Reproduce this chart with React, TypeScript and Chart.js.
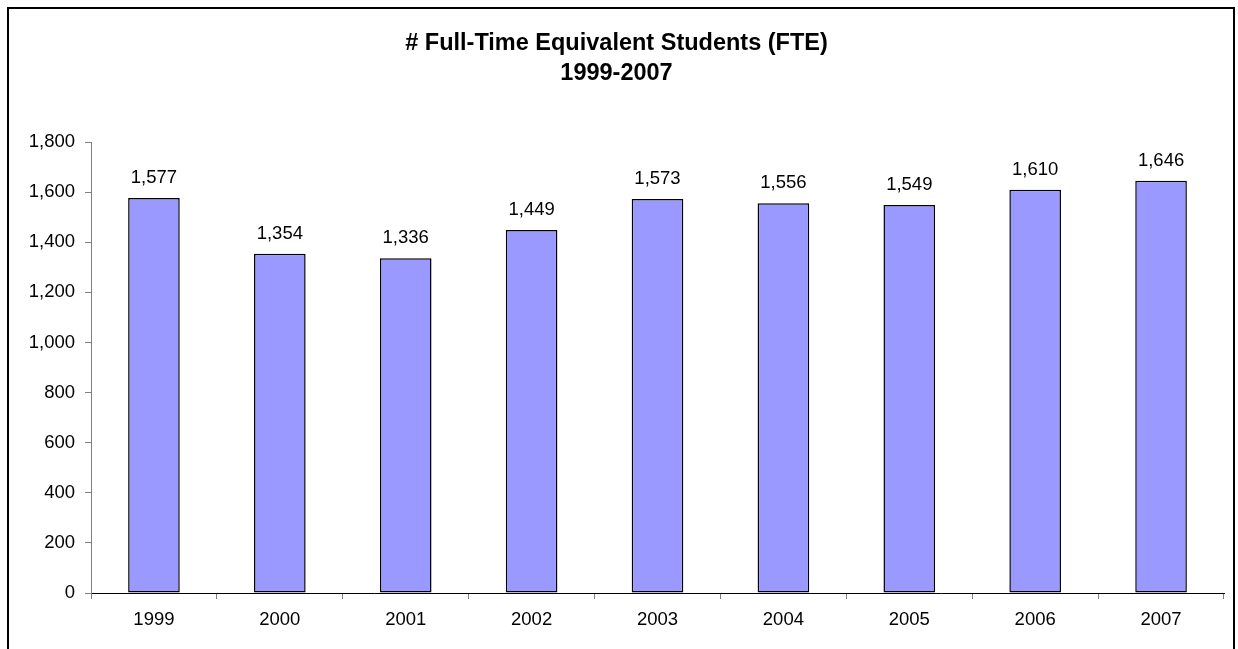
import React, { useEffect, useRef } from "react";
import { Chart, registerables } from "chart.js";

Chart.register(...registerables);

const titleLines = ["# Full-Time Equivalent Students (FTE)", "1999-2007"];
const years = ["1999", "2000", "2001", "2002", "2003", "2004", "2005", "2006", "2007"];
const fteValues = [1577, 1354, 1336, 1449, 1573, 1556, 1549, 1610, 1646];
const yMin = 0;
const yMax = 1800;
const yStep = 200;

const FONT = "Arial, 'Liberation Sans', sans-serif";

const valueLabels = {
  id: "valueLabels",
  afterDatasetsDraw(chart: any) {
    const ctx = chart.ctx;
    const meta = chart.getDatasetMeta(0);
    const data = chart.data.datasets[0].data as number[];
    ctx.save();
    ctx.font = `18.5px ${FONT}`;
    ctx.fillStyle = "#000";
    ctx.textAlign = "center";
    ctx.textBaseline = "alphabetic";
    meta.data.forEach((bar: any, i: number) => {
      ctx.fillText(data[i].toLocaleString("en-US"), bar.x, bar.y - 15);
    });
    ctx.restore();
  },
};

export default function App() {
  const canvasRef = useRef<HTMLCanvasElement | null>(null);

  useEffect(() => {
    if (!canvasRef.current) return;
    const chart = new Chart(canvasRef.current, {
      type: "bar",
      data: {
        labels: years,
        datasets: [
          {
            data: fteValues,
            backgroundColor: "#9999FF",
            borderColor: "#000000",
            borderWidth: 1.5,
            borderSkipped: false,
            barPercentage: 0.41,
            categoryPercentage: 1,
          },
        ],
      },
      options: {
        responsive: false,
        maintainAspectRatio: false,
        animation: false,
        devicePixelRatio: 1,
        layout: { padding: { left: 0, right: 9, top: 0, bottom: 0 } },
        plugins: {
          legend: { display: false },
          tooltip: { enabled: false },
          title: {
            display: true,
            text: titleLines,
            color: "#000",
            font: { family: FONT, size: 23.5, weight: "bold", lineHeight: 1.3 },
            padding: { top: 19, bottom: 53 },
          },
        },
        scales: {
          x: {
            offset: true,
            grid: {
              offset: true,
              drawOnChartArea: false,
              drawTicks: true,
              tickLength: 6,
              color: "#808080",
            },
            border: { display: true, color: "#000", width: 1 },
            ticks: {
              color: "#000",
              font: { family: FONT, size: 18.5 },
              padding: 10,
              maxRotation: 0,
            },
            afterFit: (scale: any) => {
              scale.height = 56;
            },
          },
          y: {
            min: yMin,
            max: yMax,
            ticks: {
              stepSize: yStep,
              color: "#000",
              font: { family: FONT, size: 18.5 },
              padding: 10,
            },
            grid: {
              drawOnChartArea: false,
              drawTicks: true,
              tickLength: 6,
              color: "#808080",
            },
            border: { display: true, color: "#808080", width: 1 },
            afterFit: (scale: any) => {
              scale.width = 82;
            },
          },
        },
      },
      plugins: [valueLabels],
    });
    return () => chart.destroy();
  }, []);

  return (
    <div
      style={{
        position: "fixed",
        left: 7,
        top: 7,
        width: 1228,
        height: 680,
        border: "2px solid #000",
        boxSizing: "border-box",
        background: "#fff",
      }}
    >
      <canvas ref={canvasRef} width={1224} height={640} style={{ display: "block" }} />
    </div>
  );
}
